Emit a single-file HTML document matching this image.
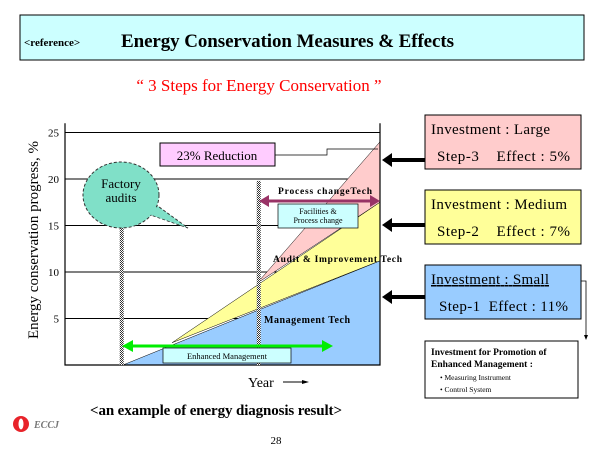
<!DOCTYPE html>
<html><head><meta charset="utf-8">
<style>
body{margin:0;background:#fff;}
svg text{font-family:"Liberation Serif",serif;}
</style></head><body>
<svg width="600" height="450" viewBox="0 0 600 450" xmlns="http://www.w3.org/2000/svg">
<defs>
<pattern id="hatch" width="2" height="2" patternUnits="userSpaceOnUse"><rect width="2" height="2" fill="#fff"/><rect width="1" height="1" fill="#333"/><rect x="1" y="1" width="1" height="1" fill="#333"/></pattern>
</defs>
<rect x="20" y="15" width="564" height="45" fill="#ccffff" stroke="#000"/>
<text x="24" y="46" font-size="11" font-weight="bold">&lt;reference&gt;</text>
<text x="121" y="47" font-size="19" font-weight="bold" textLength="333">Energy Conservation Measures &amp; Effects</text>
<text x="259" y="91" font-size="17" fill="#ff0000" text-anchor="middle">“ 3 Steps for Energy Conservation ”</text>
<g id="chart"></g>
<text transform="translate(38,240) rotate(-90)" font-size="15" text-anchor="middle">Energy conservation progress, %</text>
<text x="248" y="387" font-size="14">Year</text>
<line x1="283" y1="382" x2="305" y2="382" stroke="#000"/>
<path d="M302,380 L309,382 L302,384z" fill="#000"/>
<rect x="425" y="115" width="156" height="54" fill="#ffcccc" stroke="#000"/>
<text x="431" y="134" font-size="15" textLength="119">Investment : Large</text>
<text x="437" y="161" font-size="15" textLength="133">Step-3 &#160;&#160; Effect : 5%</text>
<rect x="425" y="190" width="156" height="54" fill="#ffff99" stroke="#000"/>
<text x="431" y="209" font-size="15" textLength="136">Investment : Medium</text>
<text x="437" y="236" font-size="15" textLength="133">Step-2 &#160;&#160; Effect : 7%</text>
<rect x="425" y="265" width="156" height="54" fill="#99ccff" stroke="#000"/>
<text x="431" y="284" font-size="15" text-decoration="underline" textLength="118">Investment : Small</text>
<text x="439" y="311" font-size="15" textLength="129">Step-1 &#160;Effect : 11%</text>
<polyline points="581,281 586,281 586,336" fill="none" stroke="#000" stroke-width="0.8"/>
<path d="M584,335 L586,340 L588,335z" fill="#000"/>
<rect x="425" y="341" width="153" height="57" fill="#fff" stroke="#000"/>
<text x="431" y="355" font-size="9.5" font-weight="bold">Investment for Promotion of</text>
<text x="431" y="367" font-size="9.5" font-weight="bold">Enhanced Management :</text>
<text x="440" y="380" font-size="7.5">• Measuring Instrument</text>
<text x="440" y="392" font-size="7.5">• Control System</text>
<g>
<line x1="390" y1="160" x2="425" y2="160" stroke="#000" stroke-width="4"/><path d="M382,160 L392,153 L392,167z"/>
<line x1="390" y1="225" x2="425" y2="225" stroke="#000" stroke-width="4"/><path d="M382,225 L392,218 L392,232z"/>
<line x1="390" y1="297" x2="425" y2="297" stroke="#000" stroke-width="4"/><path d="M382,297 L392,290 L392,304z"/>
</g>
<text x="216" y="415" font-size="15" font-weight="bold" text-anchor="middle" textLength="252">&lt;an example of energy diagnosis result&gt;</text>
<g>
<circle cx="21" cy="424" r="8" fill="#e8232a"/><ellipse cx="21" cy="424" rx="2.5" ry="5.5" fill="#fff"/>
<text x="34" y="428" font-size="10" font-style="italic" font-weight="bold" fill="#777">ECCJ</text>
</g>
<text x="276" y="444" font-size="11" text-anchor="middle">28</text>
</svg>
<script>
const yTicks=[5,10,15,20,25];
const blueX=[1.84,10], blueY=[0,11.2];
const yellowX=[3.4,10], yellowY=[2.4,17.5];
const pinkX=[6.1,10], pinkY=[8.8,24];
const NS="http://www.w3.org/2000/svg";
const g=document.getElementById('chart');
const X0=65,X1=380,Y0=365,PY=9.3;
const sx=v=>X0+(X1-X0)*v/10, sy=v=>Y0-v*PY;
function mk(t,a,p){const e=document.createElementNS(NS,t);for(const k in a)e.setAttribute(k,a[k]);(p||g).appendChild(e);return e;}
yTicks.forEach(t=>{
 const l=mk('line',{x1:X0,x2:X1,y1:sy(t),y2:sy(t),stroke:'#000','stroke-width':1});
 
 
 const tx=mk('text',{x:X0-6,y:sy(t)+4,'font-size':11,'text-anchor':'end'});tx.textContent=t;
 
 
});
const pink=mk('polygon',{points:`${sx(pinkX[0])},${sy(pinkY[0])} ${sx(pinkX[1])},${sy(pinkY[1])} ${sx(yellowX[1])},${sy(yellowY[1])}`,fill:'#ffcccc',stroke:'#000','stroke-width':0.5});


const yel=mk('polygon',{points:`${sx(yellowX[0])},${sy(yellowY[0])} ${sx(yellowX[1])},${sy(yellowY[1])} ${sx(blueX[1])},${sy(blueY[1])}`,fill:'#ffff99',stroke:'#000','stroke-width':0.5});


const blue=mk('polygon',{points:`${sx(blueX[0])},${sy(blueY[0])} ${sx(blueX[1])},${sy(blueY[1])} ${sx(blueX[1])},${Y0}`,fill:'#99ccff',stroke:'#000','stroke-width':0.5});


const ax=mk('polyline',{points:`${X0},${sy(26)} ${X0},${Y0} ${X1},${Y0} ${X1},${sy(26)}`,fill:'none',stroke:'#000','stroke-width':1.2});


[[1.8,15.3],[6.15,19.8]].forEach((b,i)=>{const r=mk('rect',{x:sx(b[0])-2,y:sy(b[1]),width:4,height:Y0-sy(b[1]),fill:'url(#hatch)'});
 
 });
const tail=mk('polygon',{points:'148,214 188,228 155,204',fill:'#80e0c8',stroke:'#333','stroke-dasharray':'3,2'});


const bub=mk('ellipse',{cx:121,cy:195,rx:38,ry:33,fill:'#80e0c8',stroke:'#333','stroke-dasharray':'3,2'});


mk('polygon',{points:'146,213 186,227 153,205',fill:'#80e0c8'});
const bt=mk('text',{x:121,y:188,'font-size':13,'text-anchor':'middle','font-family':'Liberation Sans, sans-serif'});bt.textContent='Factory';


const bt2=mk('text',{x:121,y:202,'font-size':13,'text-anchor':'middle','font-family':'Liberation Sans, sans-serif'});bt2.textContent='audits';


const rb=mk('rect',{x:160,y:143,width:115,height:23,fill:'#ffccff',stroke:'#000'});


const rt=mk('text',{x:217,y:160,'font-size':13,'text-anchor':'middle'});rt.textContent='23% Reduction';


mk('polyline',{points:'275,155 327,155 327,149 378,149',fill:'none',stroke:'#000','stroke-width':0.7});
const pa=mk('line',{x1:266,y1:201,x2:373,y2:201,stroke:'#993366','stroke-width':3});


mk('path',{d:'M259,201 L269,195 L269,207z',fill:'#993366'});mk('path',{d:'M380,201 L370,195 L370,207z',fill:'#993366'});
const pt=mk('text',{x:278,y:194,'font-size':9.5,'font-weight':'bold',textLength:94});pt.textContent='Process changeTech';


const fb=mk('rect',{x:278,y:204,width:80,height:24,fill:'#ccffff',stroke:'#000','stroke-width':0.7});


const f1=mk('text',{x:318,y:214,'font-size':8,'text-anchor':'middle'});f1.textContent='Facilities &';


const f2=mk('text',{x:318,y:223,'font-size':8,'text-anchor':'middle'});f2.textContent='Process change';


const at=mk('text',{x:273,y:262,'font-size':9.5,'font-weight':'bold',textLength:129});at.textContent='Audit & Improvement Tech';


const mt=mk('text',{x:264,y:323,'font-size':10,'font-weight':'bold',textLength:86});mt.textContent='Management Tech';


const ga=mk('line',{x1:130,y1:346,x2:325,y2:346,stroke:'#00ee00','stroke-width':3});


mk('path',{d:'M122,346 L133,340 L133,352z',fill:'#00ee00'});mk('path',{d:'M333,346 L322,340 L322,352z',fill:'#00ee00'});
const eb=mk('rect',{x:163,y:348,width:128,height:15,fill:'#ccffff',stroke:'#000','stroke-width':0.7});


const et=mk('text',{x:227,y:359,'font-size':8.5,'text-anchor':'middle'});et.textContent='Enhanced Management';


</script>
</body></html>
